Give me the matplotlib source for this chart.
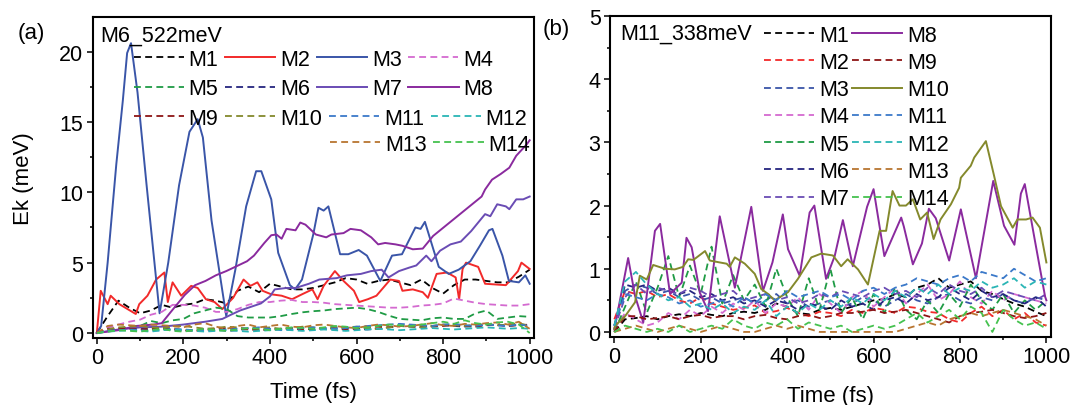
import numpy as np
import matplotlib
matplotlib.use('Agg')
import matplotlib.pyplot as plt
from matplotlib.ticker import MultipleLocator

plt.rcParams['font.family'] = ['Liberation Sans', 'DejaVu Sans']

# ---------------- panel (a): M6 excitado a 522 meV ----------------
# curvas solidas, leidas vertice a vertice (tiempo fs, Ek meV)
a_t_M2 = [0, 9, 25, 32, 52, 71, 90, 98, 117, 137, 156, 164, 175, 195, 218, 233, 252, 272, 290,
          315, 339, 355, 371, 383, 403, 427, 451, 474, 498, 510, 524, 550, 570, 594, 606, 626,
          646, 678, 698, 706, 730, 753, 765, 785, 809, 829, 837, 845, 853, 881, 897, 945, 973,
          981, 1000]
a_M2 = [0, 3.0, 2.05, 2.65, 2.05, 1.7, 1.35, 2.05, 2.65, 3.8, 4.3, 2.2, 3.6, 2.65, 3.35, 3.2,
        2.4, 2.2, 1.7, 2.5, 3.8, 3.35, 3.6, 3.0, 2.75, 2.65, 2.4, 2.75, 3.1, 2.4, 3.35, 4.4, 3.7,
        3.0, 2.2, 2.4, 2.65, 3.8, 3.7, 3.0, 3.1, 2.9, 2.5, 4.2, 4.3, 3.95, 2.4, 4.55, 5.0, 4.7,
        3.5, 3.4, 4.4, 5.0, 4.55]

a_t_M3 = [0, 10, 25, 45, 60, 70, 79, 94, 115, 145, 165, 190, 214, 233, 245, 265, 299, 320, 345,
          368, 380, 403, 419, 446, 458, 474, 500, 512, 524, 535, 562, 581, 605, 624, 655, 682,
          705, 736, 748, 758, 790, 813, 836, 863, 885, 906, 914, 937, 952, 975, 990, 1000]
a_M3 = [0, 0.5, 5.0, 12.0, 16.5, 19.9, 20.6, 17.1, 10.5, 1.4, 5.0, 10.5, 14.3, 15.2, 13.9, 8.0,
        1.2, 4.5, 9.0, 11.5, 11.5, 9.5, 5.7, 3.4, 3.1, 3.8, 7.0, 8.9, 8.7, 9.0, 5.6, 5.6, 5.9,
        5.5, 3.7, 5.5, 5.6, 7.5, 7.4, 7.9, 4.7, 4.2, 4.5, 5.1, 6.2, 7.3, 7.4, 5.5, 3.7, 3.6,
        4.1, 3.5]

a_t_M7 = [0, 50, 100, 150, 200, 250, 290, 310, 331, 379, 400, 411, 438, 459, 490, 514, 554, 578,
          610, 634, 658, 674, 698, 722, 738, 761, 773, 793, 817, 841, 865, 881, 897, 909, 925,
          945, 953, 969, 985, 1000]
a_M7 = [0, 0.25, 0.4, 0.45, 0.6, 0.8, 1.0, 1.3, 1.6, 2.1, 2.6, 3.1, 3.2, 3.2, 3.5, 3.8, 3.9, 4.1,
        4.2, 4.4, 4.5, 3.95, 4.4, 4.65, 4.8, 5.5, 5.1, 5.85, 6.3, 6.5, 7.25, 7.85, 8.45, 8.3,
        9.15, 9.0, 8.8, 9.5, 9.5, 9.7]

a_t_M8 = [0, 50, 91, 131, 150, 171, 203, 227, 251, 275, 299, 323, 347, 363, 387, 403, 415, 427,
          438, 459, 470, 482, 506, 530, 542, 570, 586, 610, 634, 650, 666, 690, 706, 730, 753,
          777, 801, 825, 849, 873, 889, 897, 913, 933, 953, 969, 993, 1000]
a_M8 = [0, 0.2, 0.5, 0.6, 0.7, 1.5, 2.7, 3.4, 3.7, 4.1, 4.4, 4.75, 5.1, 5.5, 6.4, 6.95, 7.0, 6.7,
        7.4, 7.3, 7.85, 7.7, 7.0, 6.8, 7.0, 7.1, 7.4, 7.3, 6.8, 6.3, 6.4, 6.3, 6.2, 5.95, 6.0,
        6.9, 7.5, 8.1, 8.7, 9.3, 9.7, 10.2, 10.9, 11.3, 11.75, 12.6, 13.4, 13.7]

# curvas discontinuas, una muestra cada 25 fs (0 ... 1000)
a_M1 = [0, 1.2, 2.3, 1.8, 1.4, 1.6, 2.0, 1.8, 2.0, 2.1, 2.4, 2.3, 2.1, 3.0, 3.3, 2.9, 3.5, 3.3,
        3.1, 3.1, 3.2, 3.4, 3.6, 3.9, 3.8, 3.5, 3.7, 3.8, 3.6, 3.4, 3.8, 3.2, 2.8, 3.4, 3.8,
        3.8, 3.7, 3.6, 3.6, 4.0, 4.5]
a_M4 = [0, 0.4, 0.6, 0.8, 0.95, 1.3, 1.5, 2.0, 2.0, 1.95, 1.8, 1.5, 1.5, 1.7, 2.0, 2.2, 2.2,
        2.3, 2.35, 2.2, 2.2, 2.15, 2.05, 2.0, 1.95, 1.9, 1.85, 1.8, 1.8, 1.85, 1.95, 2.0, 2.1,
        2.45, 2.3, 2.15, 2.05, 2.0, 1.95, 1.95, 2.05]
a_M5 = [0, 0.15, 0.3, 0.4, 0.5, 0.85, 0.7, 0.9, 1.0, 1.4, 1.6, 1.8, 1.7, 1.2, 1.1, 1.1, 1.1,
        1.2, 1.35, 1.47, 1.55, 1.6, 1.7, 1.75, 1.8, 1.7, 1.5, 1.23, 1.0, 0.95, 0.9, 1.05, 1.1,
        1.0, 1.0, 1.4, 1.6, 1.0, 1.1, 1.2, 1.15]
a_M6 = [0, 0.2, 0.3, 0.35, 0.3, 0.25, 0.3, 0.2, 0.15, 0.2, 0.3, 0.25, 0.15, 0.2, 0.3, 0.25, 0.2,
        0.3, 0.35, 0.3, 0.25, 0.3, 0.4, 0.35, 0.3, 0.25, 0.3, 0.4, 0.5, 0.45, 0.4, 0.5, 0.55,
        0.5, 0.45, 0.5, 0.6, 0.55, 0.5, 0.6, 0.55]
a_M9 = [0, 0.3, 0.35, 0.3, 0.25, 0.3, 0.35, 0.3, 0.2, 0.15, 0.2, 0.3, 0.35, 0.3, 0.25, 0.2,
        0.25, 0.3, 0.3, 0.25, 0.3, 0.35, 0.3, 0.25, 0.3, 0.4, 0.45, 0.4, 0.5, 0.55, 0.5, 0.45,
        0.5, 0.6, 0.5, 0.45, 0.55, 0.6, 0.5, 0.55, 0.6]
a_M10 = [0, 0.25, 0.4, 0.45, 0.5, 0.4, 0.35, 0.45, 0.5, 0.4, 0.3, 0.35, 0.45, 0.4, 0.3, 0.35,
         0.4, 0.3, 0.35, 0.45, 0.4, 0.3, 0.35, 0.4, 0.45, 0.35, 0.3, 0.4, 0.5, 0.45, 0.4, 0.5,
         0.6, 0.55, 0.5, 0.6, 0.65, 0.55, 0.6, 0.7, 0.5]
a_M11 = [0, 0.15, 0.2, 0.25, 0.2, 0.15, 0.2, 0.3, 0.25, 0.2, 0.15, 0.2, 0.25, 0.3, 0.35, 0.4,
         0.3, 0.2, 0.25, 0.35, 0.4, 0.35, 0.3, 0.35, 0.45, 0.5, 0.55, 0.6, 0.65, 0.6, 0.55, 0.5,
         0.6, 0.65, 0.55, 0.5, 0.6, 0.55, 0.5, 0.6, 0.5]
a_M12 = [0, 0.1, 0.15, 0.2, 0.15, 0.1, 0.2, 0.25, 0.2, 0.15, 0.1, 0.15, 0.2, 0.15, 0.1, 0.15,
         0.2, 0.25, 0.2, 0.15, 0.2, 0.25, 0.2, 0.15, 0.2, 0.25, 0.3, 0.25, 0.2, 0.25, 0.3, 0.35,
         0.3, 0.25, 0.3, 0.35, 0.4, 0.35, 0.3, 0.35, 0.3]
a_M13 = [0, 0.5, 0.6, 0.55, 0.5, 0.6, 0.55, 0.5, 0.4, 0.6, 0.7, 0.45, 0.3, 0.5, 0.6, 0.4, 0.5,
         0.6, 0.45, 0.4, 0.55, 0.6, 0.5, 0.4, 0.35, 0.5, 0.6, 0.55, 0.45, 0.5, 0.6, 0.7, 0.55,
         0.5, 0.65, 0.6, 0.7, 0.75, 0.6, 0.8, 0.3]
a_M14 = [0, 0.1, 0.2, 0.15, 0.1, 0.2, 0.3, 0.15, 0.1, 0.2, 0.3, 0.2, 0.15, 0.25, 0.35, 0.3, 0.2,
         0.3, 0.4, 0.35, 0.3, 0.4, 0.5, 0.45, 0.35, 0.4, 0.5, 0.6, 0.55, 0.5, 0.6, 0.7, 0.8,
         0.65, 0.9, 0.7, 0.6, 0.75, 0.8, 0.6, 0.0]

# ---------------- panel (b): M11 excitado a 338 meV ----------------
b_t_M8 = [0, 32, 48, 67, 94, 106, 129, 156, 167, 179, 198, 217, 244, 279, 317, 344, 366, 390,
          402, 429, 452, 463, 490, 510, 529, 552, 585, 600, 625, 664, 670, 691, 712, 728, 744,
          775, 802, 837, 877, 902, 926, 941, 950, 972, 997, 1000]
b_M8 = [0.04, 1.17, 0.57, 0.15, 1.6, 1.71, 0.6, 0.78, 1.49, 1.34, 0.62, 0.33, 1.83, 0.7, 1.98,
        0.65, 1.1, 1.86, 1.31, 0.89, 1.89, 2.0, 0.84, 1.2, 1.77, 1.04, 1.98, 2.26, 1.2, 1.81,
        1.67, 1.07, 1.4, 1.95, 1.8, 1.13, 1.94, 0.85, 2.39, 1.68, 1.38, 2.19, 2.34, 1.5, 0.56,
        0.5]

b_t_M10 = [0, 2, 25, 48, 59, 75, 90, 117, 140, 159, 171, 183, 210, 221, 244, 260, 267, 279, 302,
           325, 340, 356, 371, 402, 425, 456, 479, 506, 525, 540, 564, 587, 614, 629, 644, 660,
           675, 691, 708, 724, 739, 755, 779, 798, 802, 825, 833, 860, 879, 895, 922, 933, 953,
           968, 985, 1000]
b_M10 = [0.05, 0.1, 0.25, 0.47, 0.89, 0.83, 1.06, 1.0, 0.99, 1.03, 1.15, 1.14, 1.28, 1.13, 1.1,
         1.08, 1.03, 1.18, 1.08, 0.92, 0.68, 0.6, 0.5, 0.63, 0.84, 1.18, 1.24, 1.21, 1.04, 1.15,
         0.99, 0.75, 1.6, 1.6, 2.23, 2.0, 2.0, 2.1, 1.78, 1.89, 1.47, 1.78, 2.02, 2.28, 2.44,
         2.63, 2.76, 3.02, 2.47, 1.99, 1.65, 1.78, 1.78, 1.81, 1.65, 1.1]

# discontinuas cada 25 fs
b_M1 = [0.0, 0.2, 0.22, 0.25, 0.2, 0.25, 0.28, 0.25, 0.3, 0.27, 0.25, 0.3, 0.32, 0.3, 0.35,
        0.45, 0.4, 0.3, 0.28, 0.35, 0.38, 0.35, 0.4, 0.45, 0.5, 0.52, 0.6, 0.55, 0.7, 0.75,
        0.85, 0.7, 0.75, 0.8, 0.65, 0.6, 0.52, 0.45, 0.4, 0.32, 0.25]
b_M2 = [0.2, 0.65, 0.6, 0.65, 0.55, 0.6, 0.5, 0.45, 0.55, 0.45, 0.4, 0.35, 0.38, 0.42, 0.3,
        0.33, 0.38, 0.3, 0.25, 0.32, 0.3, 0.25, 0.35, 0.3, 0.38, 0.35, 0.3, 0.4, 0.38, 0.32,
        0.3, 0.2, 0.15, 0.3, 0.4, 0.25, 0.35, 0.2, 0.3, 0.15, 0.1]
b_M3 = [0.1, 0.65, 0.75, 0.7, 0.6, 0.65, 0.55, 0.6, 0.5, 0.55, 0.45, 0.5, 0.55, 0.45, 0.5, 0.6,
        0.45, 0.5, 0.4, 0.45, 0.5, 0.4, 0.45, 0.55, 0.5, 0.4, 0.5, 0.6, 0.5, 0.45, 0.55, 0.6,
        0.5, 0.45, 0.55, 0.5, 0.6, 0.5, 0.45, 0.55, 0.5]
b_M4 = [0.05, 0.3, 0.2, 0.1, 0.15, 0.3, 0.2, 0.35, 0.25, 0.4, 0.3, 0.45, 0.35, 0.5, 0.3, 0.45,
        0.4, 0.55, 0.35, 0.6, 0.45, 0.3, 0.55, 0.65, 0.4, 0.55, 0.7, 0.45, 0.6, 0.75, 0.5, 0.6,
        0.8, 0.55, 0.45, 0.65, 0.5, 0.6, 0.55, 0.5, 0.45]
b_M5 = [0.0, 0.4, 0.8, 0.3, 0.7, 1.2, 0.55, 1.05, 0.6, 1.35, 0.45, 0.9, 0.5, 0.75, 0.4, 1.0,
        0.55, 0.25, 0.85, 0.35, 1.0, 0.3, 0.55, 0.2, 0.6, 0.3, 0.7, 0.35, 0.2, 0.5, 0.3, 0.6,
        0.4, 0.75, 0.5, 0.35, 0.6, 0.3, 0.5, 0.35, 0.5]
b_M6 = [0.1, 0.75, 0.7, 0.75, 0.65, 0.7, 0.6, 0.65, 0.55, 0.6, 0.5, 0.55, 0.45, 0.5, 0.4, 0.5,
        0.45, 0.35, 0.45, 0.4, 0.35, 0.5, 0.4, 0.45, 0.35, 0.5, 0.55, 0.45, 0.6, 0.5, 0.55,
        0.7, 0.6, 0.5, 0.65, 0.55, 0.6, 0.5, 0.45, 0.55, 0.4]
b_M7 = [0.05, 0.55, 0.75, 0.6, 0.7, 0.65, 0.6, 0.7, 0.65, 0.55, 0.6, 0.65, 0.5, 0.55, 0.6, 0.5,
        0.55, 0.45, 0.5, 0.6, 0.55, 0.65, 0.6, 0.55, 0.65, 0.7, 0.6, 0.65, 0.55, 0.7, 0.6,
        0.75, 0.65, 0.6, 0.7, 0.55, 0.65, 0.6, 0.55, 0.5, 0.6]
b_M9 = [0.0, 0.25, 0.25, 0.2, 0.22, 0.25, 0.2, 0.25, 0.27, 0.22, 0.25, 0.25, 0.2, 0.25, 0.27,
        0.22, 0.2, 0.25, 0.27, 0.22, 0.25, 0.3, 0.3, 0.32, 0.35, 0.3, 0.32, 0.35, 0.3, 0.25,
        0.2, 0.15, 0.25, 0.3, 0.32, 0.35, 0.3, 0.25, 0.22, 0.25, 0.3]
b_M11 = [0.1, 0.6, 0.55, 0.5, 0.6, 0.55, 0.45, 0.5, 0.4, 0.45, 0.5, 0.4, 0.55, 0.45, 0.6, 0.5,
         0.65, 0.55, 0.6, 0.65, 0.55, 0.6, 0.5, 0.65, 0.7, 0.6, 0.7, 0.75, 0.85, 0.8, 0.75,
         0.85, 0.9, 0.8, 0.95, 0.9, 0.85, 1.0, 0.9, 0.8, 0.85]
b_M12 = [0.1, 0.8, 0.95, 0.75, 0.6, 0.5, 0.55, 0.4, 0.45, 0.35, 0.45, 0.3, 0.4, 0.35, 0.5,
         0.25, 0.4, 0.3, 0.45, 0.35, 0.5, 0.4, 0.55, 0.45, 0.6, 0.5, 0.65, 0.55, 0.7, 0.6,
         0.75, 0.6, 0.7, 0.65, 0.8, 0.7, 0.75, 0.85, 0.7, 0.8, 0.75]
b_M13 = [0.0, 0.05, 0.1, 0.05, 0.0, 0.05, 0.1, 0.05, 0.0, 0.05, 0.1, 0.05, 0.0, 0.0, 0.05, 0.1,
         0.05, 0.1, 0.05, 0.0, 0.0, 0.0, 0.0, 0.0, 0.0, 0.0, 0.0, 0.05, 0.1, 0.15, 0.1, 0.2,
         0.25, 0.3, 0.25, 0.3, 0.35, 0.3, 0.25, 0.2, 0.1]
b_M14 = [0.0, 0.1, 0.05, 0.0, 0.05, 0.0, 0.1, 0.0, 0.05, 0.1, 0.05, 0.2, 0.1, 0.05, 0.15, 0.1,
         0.2, 0.05, 0.15, 0.1, 0.05, 0.1, 0.0, 0.05, 0.1, 0.05, 0.1, 0.2, 0.3, 0.15, 0.25, 0.35,
         0.2, 0.4, 0.3, 0.0, 0.35, 0.2, 0.1, 0.15, 0.05]

colores = {'M1': '#000000', 'M2': '#f22a2a', 'M3': '#3a55a8', 'M4': '#d46ad0',
           'M5': '#1f9b45', 'M6': '#25257f', 'M7': '#6a4cb4', 'M8': '#8a2a9e',
           'M9': '#8e1515', 'M10': '#84892c', 'M11': '#3b79c9', 'M12': '#2ab5b5',
           'M13': '#b87530', 'M14': '#45c24f'}


def malla(valores):
    # muestras equiespaciadas entre 0 y 1000 fs
    return np.linspace(0, 1000, len(valores))


datos_a = {'M1': (malla(a_M1), a_M1), 'M2': (a_t_M2, a_M2), 'M3': (a_t_M3, a_M3),
           'M4': (malla(a_M4), a_M4), 'M5': (malla(a_M5), a_M5), 'M6': (malla(a_M6), a_M6),
           'M7': (a_t_M7, a_M7), 'M8': (a_t_M8, a_M8), 'M9': (malla(a_M9), a_M9),
           'M10': (malla(a_M10), a_M10), 'M11': (malla(a_M11), a_M11),
           'M12': (malla(a_M12), a_M12), 'M13': (malla(a_M13), a_M13),
           'M14': (malla(a_M14), a_M14)}
datos_b = {'M1': (malla(b_M1), b_M1), 'M2': (malla(b_M2), b_M2), 'M3': (malla(b_M3), b_M3),
           'M4': (malla(b_M4), b_M4), 'M5': (malla(b_M5), b_M5), 'M6': (malla(b_M6), b_M6),
           'M7': (malla(b_M7), b_M7), 'M8': (b_t_M8, b_M8), 'M9': (malla(b_M9), b_M9),
           'M10': (b_t_M10, b_M10), 'M11': (malla(b_M11), b_M11),
           'M12': (malla(b_M12), b_M12), 'M13': (malla(b_M13), b_M13),
           'M14': (malla(b_M14), b_M14)}

FS = 15.5


def trazar(ax, datos, solidas):
    lineas = {}
    for i in range(1, 15):
        nombre = f'M{i}'
        t, e = datos[nombre]
        if nombre in solidas:
            ln, = ax.plot(t, e, color=colores[nombre], lw=1.4, label=nombre)
        else:
            ln, = ax.plot(t, e, color=colores[nombre], lw=1.3, dashes=(3.8, 2.4), label=nombre)
        lineas[nombre] = ln
    return lineas


def ejes(ax, ymax, ymin, paso, paso_menor):
    ax.set_xlim(-10, 1010)
    ax.set_ylim(ymin, ymax)
    ax.xaxis.set_major_locator(MultipleLocator(200))
    ax.xaxis.set_minor_locator(MultipleLocator(100))
    ax.yaxis.set_major_locator(MultipleLocator(paso))
    ax.yaxis.set_minor_locator(MultipleLocator(paso_menor))
    ax.tick_params(which='both', direction='out', top=False, right=False, width=1.1,
                   labelsize=FS, pad=2.5)
    ax.tick_params(which='major', length=4.3)
    ax.tick_params(which='minor', length=2.5)
    for s in ax.spines.values():
        s.set_linewidth(1.5)
    ax.set_xlabel('Time (fs)', fontsize=16)


fig = plt.figure(figsize=(10.72, 4.06), dpi=100)
ax1 = fig.add_axes([92.5 / 1072, 1 - 338.5 / 406, 441.5 / 1072, 320.2 / 406])
ax2 = fig.add_axes([610 / 1072, 1 - 338 / 406, 440.7 / 1072, 321 / 406])

# panel (a)
lin_a = trazar(ax1, datos_a, ['M2', 'M3', 'M7', 'M8'])
ejes(ax1, 22.44, -0.32, 5, 2.5)
ax1.set_ylabel('Ek (meV)', fontsize=16)
ax1.yaxis.set_label_coords(-0.133, 0.5)
ax1.xaxis.set_label_coords(0.5, -0.135)
ax1.text(0.0186, 0.943, 'M6_522meV', transform=ax1.transAxes, fontsize=FS,
         ha='left', va='center')

# leyenda por filas, como en Origin
filas = [(['M1', 'M2', 'M3', 'M4'], 0.093, 0.869),
         (['M5', 'M6', 'M7', 'M8'], 0.093, 0.777),
         (['M9', 'M10', 'M11', 'M12'], 0.093, 0.685),
         (['M13', 'M14'], 0.538, 0.604)]
for nombres, x0, y0 in filas:
    leg = ax1.legend([lin_a[n] for n in nombres], nombres, ncol=len(nombres),
                     loc='center left', bbox_to_anchor=(x0, y0), frameon=False,
                     borderpad=0, borderaxespad=0, handlelength=2.33, handletextpad=0.23,
                     columnspacing=0.31, fontsize=FS)
    ax1.add_artist(leg)
ax1.legend_ = None

# panel (b)
lin_b = trazar(ax2, datos_b, ['M8', 'M10'])
ejes(ax2, 5.0, -0.08, 1, 0.5)
ax2.xaxis.set_label_coords(0.5, -0.15)
ax2.text(0.023, 0.946, 'M11_338meV', transform=ax2.transAxes, fontsize=FS,
         ha='left', va='center')
nombres_b = [f'M{i}' for i in range(1, 15)]
ax2.legend([lin_b[n] for n in nombres_b], nombres_b, ncol=2, loc='upper left',
           bbox_to_anchor=(0.349, 0.973), frameon=False, borderpad=0, borderaxespad=0,
           handlelength=2.33, handletextpad=0.23, columnspacing=0.15, labelspacing=0.29,
           fontsize=FS)

fig.text(31 / 1072, 1 - 34 / 406, '(a)', fontsize=16, ha='center', va='center')
fig.text(556 / 1072, 1 - 30 / 406, '(b)', fontsize=16, ha='center', va='center')

fig.savefig('out.png', dpi=100)
